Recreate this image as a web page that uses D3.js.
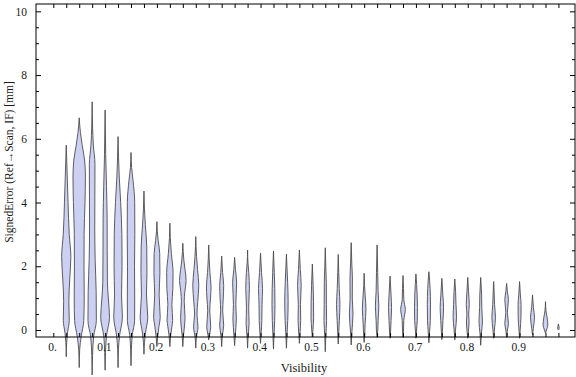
<!DOCTYPE html>
<html><head><meta charset="utf-8">
<script src="https://cdn.jsdelivr.net/npm/d3@7"></script>
<style>
body{margin:0;background:#fff}
svg{display:block}
text{font-family:"Liberation Serif","DejaVu Serif",serif;fill:#1a1a1a}
</style>
</head><body>
<svg id="chart" width="576" height="377"></svg>
<script>
// ---- data ----
const visibility = [0.025,0.05,0.075,0.1,0.125,0.15,0.175,0.2,0.225,0.25,0.275,0.3,0.325,0.35,0.375,0.4,0.425,0.45,0.475,0.5,0.525,0.55,0.575,0.6,0.625,0.65,0.675,0.7,0.725,0.75,0.775,0.8,0.825,0.85,0.875,0.9,0.925,0.95,0.975];
const xTickLabels = [0,0.1,0.2,0.3,0.4,0.5,0.6,0.7,0.8,0.9];
const yTickLabels = [0,2,4,6,8,10];
// density profiles: [signed error (mm), density] from min to max
const profiles = [
 [[-0.84,0],[-0.4,0.4],[-0.1,1.2],[0.3,3],[0.9,2.6],[1.6,3.5],[2.3,4.6],[3.0,3.0],[4.0,1.8],[4.8,1],[5.4,0.4],[5.8,0]],
 [[-1.18,0],[-0.6,0.5],[-0.2,2],[0.3,4.6],[1,5],[2,4.8],[3,4.9],[4,5.8],[4.8,6.2],[5.3,5.5],[5.8,3],[6.2,1.2],[6.66,0]],
 [[-1.41,0],[-0.8,0.4],[-0.2,1.5],[0.3,4.2],[1.2,4],[2.2,3],[3.2,2.6],[4.2,2.7],[5.2,2.8],[5.8,1.2],[6.4,0.4],[7.16,0]],
 [[-1.26,0],[-0.7,0.4],[-0.2,1.3],[0.4,4.4],[1.0,3.2],[1.5,2.3],[2.5,2.1],[3.5,2],[4.5,1.4],[5.5,0.6],[6.9,0]],
 [[-1.18,0],[-0.6,0.4],[-0.2,1.4],[0.4,4.3],[1.1,3.5],[2,4],[3,3.8],[4,2.6],[4.8,1.2],[5.4,0.5],[6.07,0]],
 [[-1.12,0],[-0.6,0.4],[-0.15,1.3],[0.3,3.6],[1,3.7],[2,3.5],[3,3.8],[4,3.7],[4.7,2],[5.1,0.6],[5.57,0]],
 [[-0.76,0],[-0.4,0.5],[-0.1,1.5],[0.4,3.8],[1.1,2.5],[1.8,3],[2.6,2.8],[3.3,1.4],[3.8,0.5],[4.36,0]],
 [[-0.52,0],[-0.2,0.8],[0.1,2],[0.4,3.3],[1.1,2.2],[1.8,3],[2.4,2.8],[2.8,1.3],[3.1,0.4],[3.4,0]],
 [[-0.52,0],[-0.2,0.7],[0.1,2],[0.3,2.8],[0.8,2],[1.3,3],[1.8,3.2],[2.4,1.5],[2.9,0.4],[3.35,0]],
 [[-0.52,0],[-0.2,0.6],[0.1,1.6],[0.4,2.2],[0.9,1.4],[1.2,2],[1.55,3.3],[1.9,2.2],[2.2,1],[2.72,0]],
 [[-0.57,0],[-0.25,0.6],[0.1,2.2],[0.5,1.2],[0.9,2],[1.4,3],[1.9,1.8],[2.3,0.8],[2.93,0]],
 [[-0.31,0],[-0.15,0.8],[0.1,2],[0.6,1],[1,1.8],[1.35,2.3],[1.8,1.2],[2.2,0.5],[2.67,0]],
 [[-0.52,0],[-0.2,0.6],[0.15,2],[0.6,1],[1.0,1.6],[1.4,2],[1.8,0.9],[2.32,0]],
 [[-0.49,0],[-0.2,0.6],[0.35,1.7],[0.8,1.2],[1.5,2],[1.9,0.8],[2.28,0]],
 [[-0.57,0],[-0.2,0.5],[0.2,1.5],[0.7,1.1],[1.3,1.8],[1.8,1.2],[2.1,0.4],[2.51,0]],
 [[-0.42,0],[-0.1,0.6],[0.3,1.3],[0.8,1.5],[1.3,2],[1.8,1],[2.41,0]],
 [[-0.6,0],[-0.2,0.5],[0.3,1.2],[0.8,1.5],[1.3,1.3],[1.8,0.8],[2.48,0]],
 [[-0.57,0],[-0.2,0.5],[0.3,1.3],[0.9,1.7],[1.5,1.2],[2,0.5],[2.38,0]],
 [[-0.42,0],[-0.1,0.6],[0.3,1.3],[0.8,1.1],[1.4,1.8],[1.9,0.9],[2.51,0]],
 [[-0.21,0],[0,0.6],[0.4,1.3],[0.9,1.2],[1.4,0.8],[2.07,0]],
 [[-0.68,0],[-0.2,0.5],[0.3,1.3],[0.8,1.1],[1.5,1],[2,0.5],[2.58,0]],
 [[-0.44,0],[-0.1,0.5],[0.3,1.1],[0.8,1.7],[1.3,1],[1.8,0.5],[2.37,0]],
 [[-0.47,0],[-0.1,0.6],[0.5,1.8],[1.0,1.1],[1.6,1.2],[2.1,0.6],[2.74,0]],
 [[-0.39,0],[-0.1,0.6],[0.2,1],[0.65,1.8],[1.1,1],[1.4,0.4],[1.78,0]],
 [[-0.23,0],[0,0.7],[0.3,1],[0.75,1.7],[1.2,1],[1.8,0.6],[2.67,0]],
 [[-0.26,0],[0,0.6],[0.3,1],[0.7,1.5],[1.1,1],[1.69,0]],
 [[-0.24,0],[0,0.5],[0.3,0.8],[0.65,2.3],[0.95,0.8],[1.3,0.5],[1.71,0]],
 [[-0.26,0],[0,0.6],[0.3,1.3],[0.7,1.5],[1.1,1.2],[1.76,0]],
 [[-0.4,0],[-0.1,0.6],[0.3,1.4],[0.8,1.6],[1.3,1.2],[1.83,0]],
 [[-0.3,0],[0,0.6],[0.3,1.1],[0.7,1.7],[1.1,1],[1.62,0]],
 [[-0.31,0],[0,0.7],[0.4,1.7],[0.8,1.2],[1.2,0.8],[1.6,0]],
 [[-0.26,0],[0,0.8],[0.25,1.3],[0.5,0.9],[0.8,1.5],[1.2,0.8],[1.65,0]],
 [[-0.48,0],[-0.1,0.7],[0.25,1.7],[0.7,1.1],[1.1,0.9],[1.65,0]],
 [[-0.26,0],[0,0.7],[0.4,1.8],[0.8,0.9],[1.1,0.6],[1.52,0]],
 [[-0.23,0],[0,0.8],[0.2,1.8],[0.55,0.8],[0.95,1.8],[1.2,0.8],[1.46,0]],
 [[-0.26,0],[0,0.6],[0.4,1.4],[0.8,1.5],[1.1,0.8],[1.52,0]],
 [[-0.16,0],[0.05,0.8],[0.4,2],[0.7,0.9],[1.1,0]],
 [[-0.1,0],[0,1],[0.15,2.4],[0.4,1.6],[0.6,0.5],[0.89,0]],
 [[0,0],[0.04,0.7],[0.1,0.6],[0.19,0]]
];

// ---- layout ----
const svg = d3.select('#chart');
const L = 36, R = 575, T = 4, B = 337;
const x = d3.scaleLinear().domain([-0.0334, 1.0070]).range([L, R]);
const y = d3.scaleLinear().domain([-0.22, 10.23]).range([B, T]);
const w = d3.scaleLinear().domain([0, 1]).range([0, 1]);

// violins
const area = d3.area()
  .curve(d3.curveMonotoneY)
  .y(d => y(d[0]));
const gv = svg.append('g');
profiles.forEach((p, i) => {
  const cx = x(visibility[i]);
  gv.append('path')
    .attr('d', area.x0(d => cx - w(d[1])).x1(d => cx + w(d[1]))(p))
    .attr('fill', '#ccd1f3')
    .attr('stroke', '#4d4d4d')
    .attr('stroke-width', 0.9)
    .attr('stroke-linejoin', 'round');
});

// frame
svg.append('rect').attr('x', L).attr('y', T).attr('width', R - L).attr('height', B - T)
  .attr('fill', 'none').attr('stroke', '#000').attr('stroke-width', 1);

const xTicks = [0].concat(visibility);
function styleAxis(g){ g.select('.domain').remove(); g.selectAll('line').attr('stroke', '#000'); }
svg.append('g').attr('transform', `translate(0,${B})`)
  .call(d3.axisBottom(x).tickValues(xTicks).tickSize(-4).tickFormat('')).call(styleAxis);
svg.append('g').attr('transform', `translate(0,${T})`)
  .call(d3.axisTop(x).tickValues(xTicks).tickSize(-4).tickFormat('')).call(styleAxis);

const yMinor = d3.range(0, 10.01, 0.5).filter(v => v % 2 !== 0);
svg.append('g').attr('transform', `translate(${L},0)`)
  .call(d3.axisLeft(y).tickValues(yMinor).tickSize(-3).tickFormat('')).call(styleAxis);
svg.append('g').attr('transform', `translate(${R},0)`)
  .call(d3.axisRight(y).tickValues(yMinor).tickSize(-3).tickFormat('')).call(styleAxis);
svg.append('g').attr('transform', `translate(${R},0)`)
  .call(d3.axisRight(y).tickValues(yTickLabels).tickSize(-5).tickFormat('')).call(styleAxis);
const gyl = svg.append('g').attr('transform', `translate(${L},0)`)
  .call(d3.axisLeft(y).tickValues(yTickLabels).tickSize(-5).tickPadding(9).tickFormat(d3.format('d'))).call(styleAxis);
gyl.selectAll('text').attr('font-size', 11.5).attr('fill', '#1a1a1a').attr('font-family', '"Liberation Serif",serif');

const gxl = svg.append('g').attr('transform', `translate(0,${B})`)
  .call(d3.axisBottom(x).tickValues(xTickLabels).tickSize(0).tickPadding(6)
    .tickFormat(d => d === 0 ? '0.' : d3.format('.1f')(d))).call(styleAxis);
gxl.selectAll('text').attr('font-size', 11.5).attr('fill', '#1a1a1a').attr('dx', -1.3)
  .attr('font-family', '"Liberation Serif",serif');

// axis titles
svg.append('text').attr('x', 304).attr('y', 372).attr('text-anchor', 'middle')
  .attr('font-size', 12.5).text('Visibility');
svg.append('text').attr('transform', 'translate(13,162) rotate(-90)').attr('text-anchor', 'middle')
  .attr('font-size', 11.5).text('SignedError (Ref\u2192Scan, IF) [mm]');
</script>
</body></html>
